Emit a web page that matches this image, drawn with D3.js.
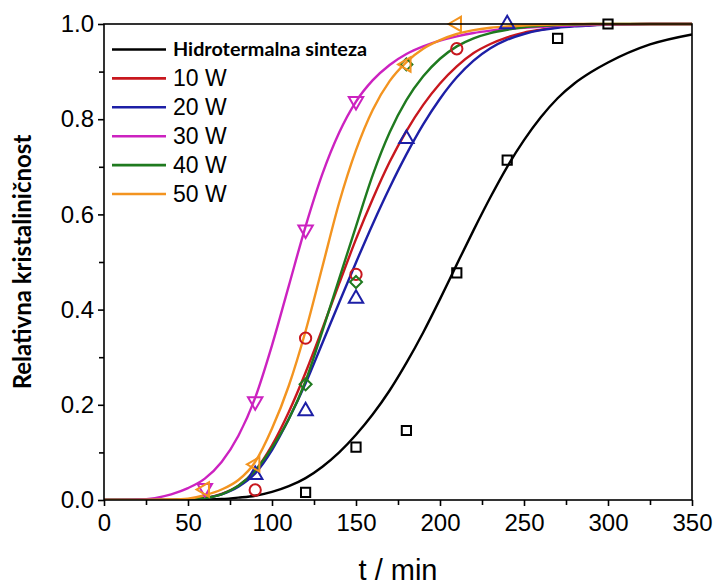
<!DOCTYPE html>
<html><head><meta charset="utf-8">
<script src="https://cdn.jsdelivr.net/npm/d3@7/dist/d3.min.js"></script>
<style>
html,body{margin:0;padding:0;background:#fff;}
svg{display:block;}
</style></head>
<body><svg id="c" width="716" height="587"></svg>
<script>
// ---------- data ----------
const seriesNames = ["Hidrotermalna sinteza", "10 W", "20 W", "30 W", "40 W", "50 W"];
const seriesColors = ["#000000", "#c8171e", "#1d1fa6", "#cc22c0", "#1f7a1f", "#f39420"];
const seriesSymbols = ["square", "circle", "triangleUp", "triangleDown", "diamond", "triangleLeft"];

// fitted curves (t in min, relative crystallinity)
const fitT = [0,20,40,50,60,70,80,90,100,110,120,130,140,150,160,170,180,190,200,210,220,230,240,250,260,270,280,290,300,325,350];
const fitHidro = [0,0,0,0.0005,0.001,0.002,0.005,0.009,0.017,0.029,0.046,0.07,0.1,0.137,0.18,0.23,0.288,0.352,0.422,0.495,0.567,0.636,0.70,0.756,0.804,0.844,0.875,0.899,0.919,0.957,0.978];
const fit10W  = [0,0,0,0.001,0.004,0.013,0.03,0.062,0.115,0.185,0.268,0.36,0.455,0.548,0.633,0.71,0.775,0.83,0.875,0.911,0.939,0.958,0.972,0.982,0.988,0.993,0.996,0.998,0.999,1,1];
const fit20W  = [0,0,0,0.001,0.004,0.012,0.028,0.056,0.105,0.17,0.245,0.33,0.415,0.499,0.58,0.656,0.726,0.789,0.843,0.888,0.923,0.949,0.967,0.979,0.987,0.992,0.995,0.997,0.999,1,1];
const fit30W  = [0,0.001,0.012,0.025,0.045,0.08,0.135,0.215,0.325,0.45,0.575,0.685,0.772,0.837,0.882,0.914,0.937,0.953,0.965,0.974,0.981,0.986,0.99,0.992,0.994,0.996,0.997,0.998,0.999,1,1];
const fit40W  = [0,0,0,0.001,0.004,0.012,0.03,0.062,0.11,0.17,0.25,0.355,0.465,0.575,0.683,0.772,0.84,0.89,0.927,0.953,0.97,0.981,0.988,0.993,0.996,0.998,0.999,1,1,1,1];
const fit50W  = [0,0,0.001,0.003,0.01,0.022,0.042,0.08,0.15,0.24,0.355,0.49,0.625,0.735,0.82,0.88,0.92,0.948,0.966,0.979,0.987,0.992,0.995,0.997,0.998,0.999,1,1,1,1,1];

// measured points
const ptsHidroT = [120,150,180,210,240,270,300];
const ptsHidroX = [0.016,0.111,0.146,0.477,0.714,0.97,1.0];
const pts10WT = [90,120,150,210];
const pts10WX = [0.021,0.34,0.474,0.948];
const pts20WT = [90,120,150,180,240];
const pts20WX = [0.053,0.187,0.423,0.759,1.0];
const pts30WT = [60,90,120,150];
const pts30WX = [0.025,0.207,0.568,0.838];
const pts40WT = [120,150,180];
const pts40WX = [0.243,0.458,0.915];
const pts50WT = [60,90,180,210];
const pts50WX = [0.022,0.075,0.915,1.0];

const xTicks = [0,50,100,150,200,250,300,350];
const yTicks = [0,0.2,0.4,0.6,0.8,1.0];

const fits = [fitHidro, fit10W, fit20W, fit30W, fit40W, fit50W];
const ptsT = [ptsHidroT, pts10WT, pts20WT, pts30WT, pts40WT, pts50WT];
const ptsX = [ptsHidroX, pts10WX, pts20WX, pts30WX, pts40WX, pts50WX];

// ---------- drawing ----------
const svg = d3.select("#c");
const L = 104, R = 692, T = 24, B = 500;
const x = d3.scaleLinear().domain([0,350]).range([L,R]);
const y = d3.scaleLinear().domain([0,1]).range([B,T]);

const tickFont = "'Liberation Sans', Arial, sans-serif";
const boldFont = "Lato, 'Liberation Sans', sans-serif";

svg.append("defs").append("clipPath").attr("id","clip")
  .append("rect").attr("x",L).attr("y",T-3).attr("width",R-L).attr("height",B-T+3);

// curves
const line = d3.line().x(d=>x(d[0])).y(d=>y(d[1])).curve(d3.curveMonotoneX);
const gCurves = svg.append("g").attr("clip-path","url(#clip)");
fits.forEach((f,i)=>{
  gCurves.append("path")
    .datum(fitT.map((t,j)=>[t,f[j]]))
    .attr("d",line).attr("fill","none")
    .attr("stroke",seriesColors[i]).attr("stroke-width",2.4);
});

// markers
const symMap = {
  square:{type:d3.symbolSquare,size:85,rot:0},
  circle:{type:d3.symbolCircle,size:100,rot:0},
  triangleUp:{type:d3.symbolTriangle,size:90,rot:0},
  triangleDown:{type:d3.symbolTriangle,size:90,rot:180},
  diamond:{type:d3.symbolSquare,size:72,rot:45},
  triangleLeft:{type:d3.symbolTriangle,size:90,rot:-90}
};
ptsT.forEach((ts,i)=>{
  const s = symMap[seriesSymbols[i]];
  const g = svg.append("g");
  ts.forEach((t,j)=>{
    g.append("path")
      .attr("d", d3.symbol().type(s.type).size(s.size)())
      .attr("transform",`translate(${x(t)},${y(ptsX[i][j])}) rotate(${s.rot})`)
      .attr("fill","none").attr("stroke",seriesColors[i]).attr("stroke-width",2);
  });
});

// frame
svg.append("rect").attr("x",L).attr("y",T).attr("width",R-L).attr("height",B-T)
  .attr("fill","none").attr("stroke","#000").attr("stroke-width",1.6);

// axes
const xAxis = d3.axisBottom(x).tickValues(xTicks).tickFormat(d3.format("d")).tickSize(6).tickPadding(8);
const xMinor = d3.axisBottom(x).tickValues(d3.range(25,350,50)).tickFormat("").tickSize(5);
const yAxis = d3.axisLeft(y).tickValues(yTicks).tickFormat(d3.format(".1f")).tickSize(6).tickPadding(4);
const yMinor = d3.axisLeft(y).tickValues([0.1,0.3,0.5,0.7,0.9]).tickFormat("").tickSize(5);

function styleAxis(g){
  g.select(".domain").remove();
  g.selectAll("line").attr("stroke","#000").attr("stroke-width",1.6);
  g.selectAll("text").attr("fill","#000").style("font-family",tickFont).style("font-size","24px");
}
svg.append("g").attr("transform",`translate(0,${B})`).call(xAxis).call(styleAxis);
svg.append("g").attr("transform",`translate(0,${B})`).call(xMinor).call(styleAxis);
svg.append("g").attr("transform",`translate(${L},0)`).call(yAxis).call(styleAxis);
svg.append("g").attr("transform",`translate(${L},0)`).call(yMinor).call(styleAxis);

// axis titles
svg.append("text").attr("x",(L+R)/2).attr("y",580).attr("text-anchor","middle")
  .style("font-family",tickFont).style("font-size","29px").text("t / min");
svg.append("text").attr("transform",`translate(31,${(T+B)/2}) rotate(-90)`)
  .attr("text-anchor","middle")
  .style("font-family",boldFont).style("font-weight","bold").style("font-size","24px")
  .text("Relativna kristaliničnost");

// legend
const legY0 = 49.5, legDy = 28.9;
seriesNames.forEach((n,i)=>{
  const yy = legY0 + i*legDy;
  svg.append("line").attr("x1",112).attr("x2",166).attr("y1",yy).attr("y2",yy)
    .attr("stroke",seriesColors[i]).attr("stroke-width",2.6);
  const t = svg.append("text").attr("x",173).attr("y",yy).attr("dy","0.35em").text(n);
  if(i===0){
    t.style("font-family",boldFont).style("font-weight","bold").style("font-size","19.8px");
  } else {
    t.style("font-family",tickFont).style("font-size","23px");
  }
});
</script></body></html>
